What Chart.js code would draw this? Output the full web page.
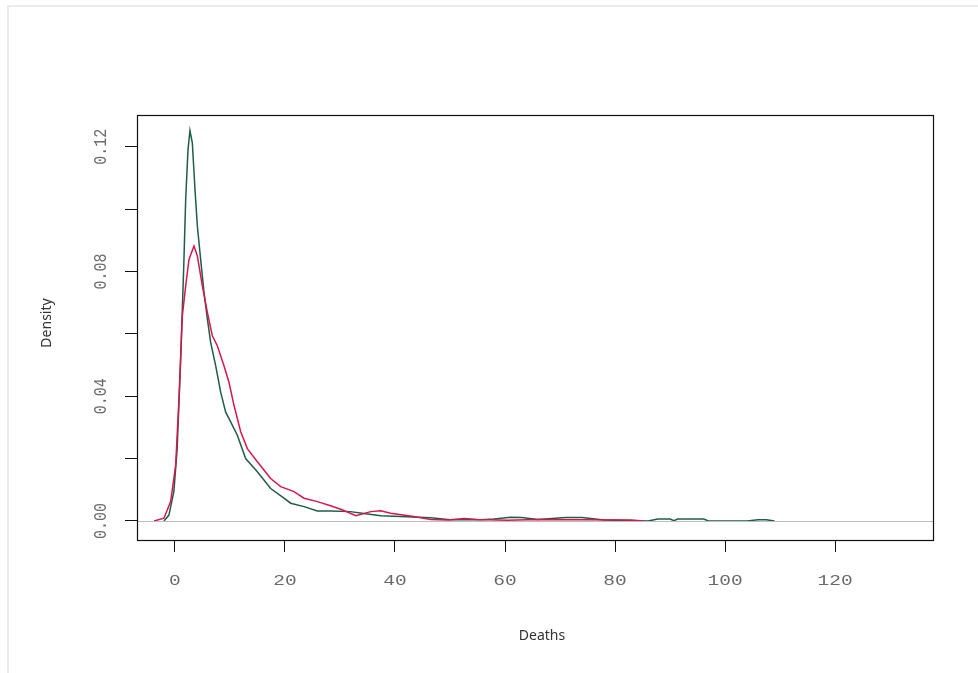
<!DOCTYPE html>
<html>
<head>
<meta charset="utf-8">
<script src="https://cdn.jsdelivr.net/npm/chart.js@4.4.1/dist/chart.umd.min.js"></script>
<style>
  html, body { margin: 0; padding: 0; background: #fff; }
  #wrap { position: relative; width: 978px; height: 673px; }
  #edge { position: absolute; left: 7px; top: 5px; right: 0; bottom: 0; border-left: 2px solid #ebebeb; border-top: 2px solid #ebebeb; }
  canvas { position: absolute; left: 0; top: 0; }
</style>
</head>
<body>
<div id="wrap">
  <div id="edge"></div>
  <canvas id="densityChart" width="978" height="673"></canvas>
</div>
<script>
// green density
const greenX = [-2.0, -1.1, -0.2, 0.4, 1.0, 1.6, 1.95, 2.37, 2.73, 3.16, 3.64, 4.07, 4.67, 5.28, 5.89, 6.49, 7.4, 8.31, 9.22, 10.13, 11.34, 12.85, 14.98, 17.4, 19.82, 21.04, 23.46, 25.89, 28.3, 31.9, 34, 37.4, 41, 46.5, 50, 55.6, 58, 61, 63, 66, 71, 74, 78, 84, 86, 87.8, 90, 90.7, 91.4, 96.1, 97, 104, 106, 107.5, 109];
const greenY = [0, 0.0019, 0.0094, 0.0232, 0.0498, 0.0818, 0.1031, 0.1191, 0.1252, 0.1212, 0.1063, 0.0946, 0.0839, 0.0733, 0.0648, 0.0573, 0.0498, 0.0413, 0.0349, 0.0318, 0.0275, 0.0200, 0.0158, 0.0104, 0.0073, 0.0057, 0.0046, 0.0032, 0.0032, 0.0030, 0.0025, 0.0017, 0.0014, 0.0010, 0.0004, 0.0004, 0.0006, 0.0012, 0.0011, 0.0005, 0.0011, 0.0011, 0.0003, 0.0001, 0, 0.0006, 0.0006, 0.0001, 0.0006, 0.0006, 0, 0, 0.0004, 0.0004, 0];

// red density
const redX = [-3.8, -2.0, -0.78, 0.13, 0.73, 1.34, 1.95, 2.55, 3.46, 4.07, 4.98, 5.89, 6.79, 7.7, 8.91, 9.82, 10.73, 11.95, 13.16, 14.98, 17.4, 19.22, 21.64, 23.46, 25.89, 28.3, 30.5, 32.9, 35.6, 37.4, 39.2, 43.4, 46.5, 49.5, 52.6, 55, 60.4, 66, 73.8, 82.9, 85.3];
const redY = [0, 0.0009, 0.0062, 0.0179, 0.0392, 0.0658, 0.0754, 0.0839, 0.0882, 0.0850, 0.0754, 0.0669, 0.0594, 0.0562, 0.0498, 0.0445, 0.0371, 0.0286, 0.0232, 0.0190, 0.0136, 0.0110, 0.0094, 0.0073, 0.0062, 0.0049, 0.0035, 0.0017, 0.0030, 0.0033, 0.0025, 0.0014, 0.0005, 0.0003, 0.0008, 0.0005, 0.0002, 0.0005, 0.0004, 0.0003, 0];

const xTicks = [0, 20, 40, 60, 80, 100, 120];
const yTicks = [0, 0.02, 0.04, 0.06, 0.08, 0.10, 0.12];
const yLabels = ["0.00", "", "0.04", "", "0.08", "", "0.12"];

const toPoints = (xs, ys) => xs.map((x, i) => ({ x: x, y: ys[i] }));

// tick numbers look stretched sideways in the reference
function drawText(ctx, text, x, y, rot, sx) {
  ctx.save();
  ctx.translate(x, y);
  ctx.scale(sx || 1, 1);
  if (rot) ctx.rotate(rot);
  ctx.fillText(text, 0, 0);
  ctx.restore();
}

const rStyle = {
  id: "rStyle",
  afterDatasetsDraw(chart) {
    const { ctx, chartArea, scales } = chart;
    const y0 = Math.round(scales.y.getPixelForValue(0)) + 0.5;
    ctx.save();
    ctx.strokeStyle = "#bdbdbd";
    ctx.lineWidth = 1;
    ctx.beginPath();
    ctx.moveTo(chartArea.left, y0);
    ctx.lineTo(chartArea.right, y0);
    ctx.stroke();
    ctx.restore();
  },
  afterDraw(chart) {
    const { ctx, chartArea, scales } = chart;
    ctx.save();
    ctx.strokeStyle = "#111";
    ctx.lineWidth = 1.2;
    ctx.strokeRect(chartArea.left + 0.5, chartArea.top + 0.5, chartArea.right - chartArea.left, chartArea.bottom - chartArea.top);

    ctx.fillStyle = "#6a6a6a";
    ctx.font = "15px 'Liberation Mono'";
    ctx.textAlign = "center";
    ctx.textBaseline = "middle";
    xTicks.forEach(v => drawText(ctx, String(v), scales.x.getPixelForValue(v), 581, 0, 1.3));
    yTicks.forEach((v, i) => {
      if (yLabels[i]) drawText(ctx, yLabels[i], 101, scales.y.getPixelForValue(v), -Math.PI / 2, 1.2);
    });

    ctx.fillStyle = "#333";
    ctx.font = "14px 'Noto Sans'";
    drawText(ctx, "Deaths", 542, 636);
    drawText(ctx, "Density", 47, 323, -Math.PI / 2);
    ctx.restore();
  }
};

new Chart(document.getElementById("densityChart"), {
  type: "line",
  data: {
    datasets: [
      {
        label: "red",
        data: toPoints(redX, redY),
        borderColor: "#d5184b",
        borderWidth: 1.5,
        pointRadius: 0,
        tension: 0,
        fill: false
      },
      {
        label: "green",
        data: toPoints(greenX, greenY),
        borderColor: "#1f5c4a",
        borderWidth: 1.5,
        pointRadius: 0,
        tension: 0,
        fill: false
      }
    ]
  },
  options: {
    responsive: false,
    animation: false,
    layout: { padding: { top: 115, right: 45, left: 0, bottom: 0 } },
    plugins: { legend: { display: false }, tooltip: { enabled: false } },
    scales: {
      x: {
        type: "linear",
        min: -6.9,
        max: 137.8,
        afterBuildTicks: s => { s.ticks = xTicks.map(v => ({ value: v })); },
        afterFit: s => { s.height = 133; },
        border: { display: false },
        grid: { drawOnChartArea: false, drawTicks: true, tickLength: 12, color: "#111", tickWidth: 1 },
        ticks: { display: false }
      },
      y: {
        min: -0.0061,
        max: 0.1302,
        afterBuildTicks: s => { s.ticks = yTicks.map(v => ({ value: v })); },
        afterFit: s => { s.width = 137; },
        border: { display: false },
        grid: { drawOnChartArea: false, drawTicks: true, tickLength: 12, color: "#111", tickWidth: 1 },
        ticks: { display: false }
      }
    }
  },
  plugins: [rStyle]
});
</script>
</body>
</html>
